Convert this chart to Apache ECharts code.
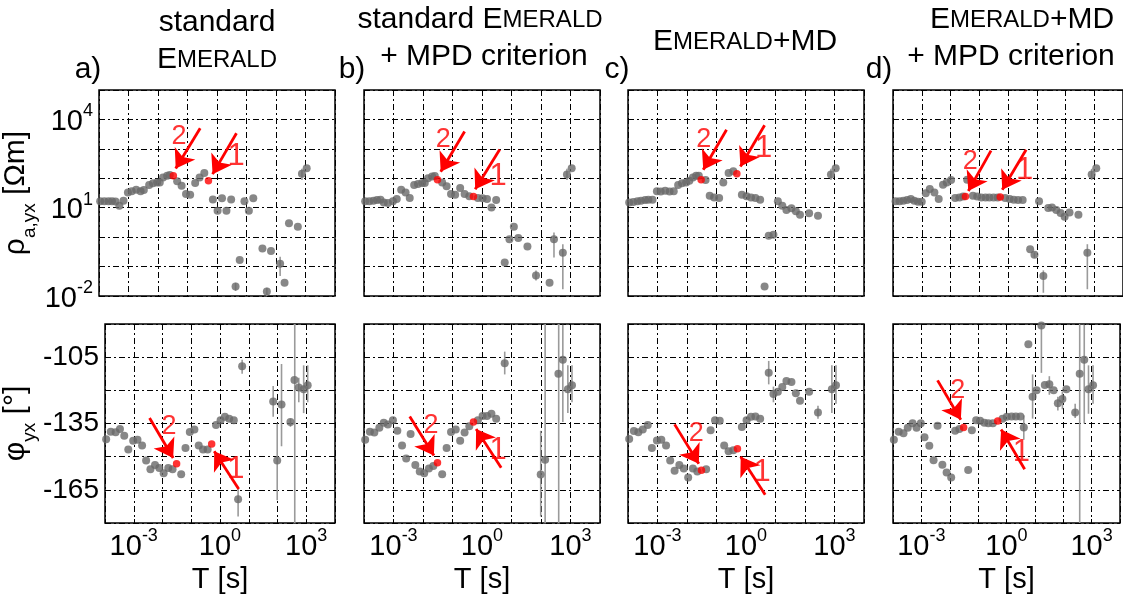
<!DOCTYPE html>
<html><head><meta charset="utf-8">
<script src="https://cdn.jsdelivr.net/npm/echarts@6/dist/echarts.min.js"></script>
<style>html,body{margin:0;padding:0;background:#fff}#c{width:1123px;height:595px}</style>
</head><body><div id="c"></div><script>
// x values are log10(T [s]); rho values are log10(rho [Ohm m]); phase in degrees
const xTicksLabelled = [-3, 0, 3];
// ---- panel a: standard EMERALD
const rhoA = [[-3.96,1.22],[-3.82,1.22],[-3.68,1.22],[-3.56,1.22],[-3.44,1.21],[-3.31,1.07],[-3.17,1.24],[-3.02,1.52],[-2.89,1.56],[-2.74,1.61],[-2.59,1.56],[-2.48,1.60],[-2.30,1.77],[-2.17,1.83],[-2.03,1.86],[-1.94,1.86],[-1.83,2.03],[-1.69,2.09],[-1.60,2.11],[-1.35,1.90],[-1.20,1.75],[-1.05,1.47],[-0.91,1.44],[-0.74,1.84],[-0.59,2.03],[-0.43,2.18],[-0.14,1.28],[0.02,0.90],[0.17,1.32],[0.32,0.90],[0.48,1.28],[0.63,-1.68],[0.77,-0.78],[0.93,1.22],[1.08,0.90],[1.23,1.32],[1.54,-0.39],[1.69,-1.85],[1.83,-0.47],[2.14,-0.90],[2.29,-1.55],[2.44,0.47],[2.74,0.35],[2.88,2.15],[3.04,2.34]];
const rhoARed = [[-1.48,2.09],[-0.29,1.92]];
const rhoAErr = [[0.63,-1.55,-1.83],[1.69,-1.72,-2.0],[2.14,-0.67,-1.32],[2.88,2.32,1.94]];
const phaA = [[-3.96,-142.1],[-3.80,-138.7],[-3.63,-139.0],[-3.48,-137.5],[-3.33,-140.5],[-3.19,-146.8],[-3.02,-142.8],[-2.87,-142.4],[-2.71,-144.9],[-2.57,-151.7],[-2.42,-155.7],[-2.26,-153.8],[-2.11,-155.1],[-1.96,-157.5],[-1.80,-155.1],[-1.65,-155.7],[-1.35,-157.9],[-1.20,-146.1],[-1.05,-138.8],[-0.89,-137.7],[-0.74,-144.9],[-0.59,-146.8],[-0.43,-146.8],[-0.14,-135.7],[0.02,-133.5],[0.17,-132.0],[0.32,-132.9],[0.48,-133.5],[0.63,-169.3],[0.77,-109.1],[1.85,-125.0],[1.99,-151.7],[2.14,-126.4],[2.45,-134.3],[2.59,-115.3],[2.74,-118.7],[2.91,-119.5],[3.05,-117.7]];
const phaARed = [[-1.51,-153.2],[-0.29,-144.3]];
const phaAErr = [[0.63,-164.6,-177.1],[0.77,-106.2,-112.5],[1.85,-118.0,-132.0],[1.99,-135.0,-169.7],[2.14,-108.1,-145.3],[2.45,-132.8,-136.5],[2.60,-90,-180],[2.74,-114.3,-125.4],[2.91,-108.7,-130.3],[3.05,-108.7,-125.4]];
// ---- panel b: standard EMERALD + MPD criterion
const rhoB = [[-3.96,1.22],[-3.82,1.22],[-3.68,1.24],[-3.56,1.26],[-3.44,1.27],[-3.33,1.18],[-3.19,1.16],[-3.02,1.22],[-2.89,1.30],[-2.74,1.61],[-2.59,1.52],[-2.45,1.33],[-2.30,1.77],[-2.17,1.81],[-2.03,1.84],[-1.94,1.84],[-1.83,2.00],[-1.69,2.06],[-1.60,2.08],[-1.35,1.86],[-1.20,1.73],[-1.05,1.47],[-0.91,1.44],[-0.74,1.67],[-0.59,1.47],[-0.43,1.39],[-0.14,1.33],[0.02,1.32],[0.17,1.30],[0.32,1.01],[0.48,1.26],[0.77,-0.86],[0.93,-0.07],[1.08,0.35],[1.23,-0.03],[1.54,-0.32],[1.69,-2.03],[1.83,-1.30],[2.29,-1.55],[2.44,-0.07],[2.74,-0.53],[2.88,2.13],[3.04,2.34]];
const rhoBRed = [[-1.51,1.95],[-0.29,1.38]];
const rhoBErr = [[1.83,-1.13,-1.47],[2.44,0.16,-0.69],[2.74,-0.24,-1.77],[2.88,2.32,1.94]];
const phaB = [[-3.96,-142.4],[-3.80,-138.7],[-3.65,-139.1],[-3.48,-136.9],[-3.33,-134.7],[-3.19,-135.4],[-3.02,-133.5],[-2.87,-138.3],[-2.71,-144.9],[-2.57,-150.8],[-2.42,-139.7],[-2.26,-153.8],[-2.11,-156.7],[-1.96,-157.5],[-1.80,-155.3],[-1.65,-154.2],[-1.35,-157.9],[-1.20,-146.1],[-1.05,-138.8],[-0.89,-137.7],[-0.74,-142.8],[-0.59,-139.1],[-0.43,-136.2],[-0.14,-133.5],[0.02,-131.6],[0.17,-131.6],[0.32,-130.6],[0.48,-132.8],[0.77,-107.7],[1.99,-158.1],[2.14,-151.4],[2.59,-112.5],[2.74,-106.2],[2.91,-119.5],[3.05,-117.7]];
const phaBRed = [[-1.51,-152.7],[-0.29,-134.3]];
const phaBErr = [[0.77,-102.5,-112.8],[1.99,-138.3,-177.1],[2.14,-90,-180],[2.60,-90,-180],[2.74,-90.3,-134.3],[2.91,-108.7,-130.3],[3.05,-108.7,-125.4]];
// ---- panel c: EMERALD+MD
const rhoC = [[-3.96,1.18],[-3.82,1.19],[-3.68,1.22],[-3.56,1.24],[-3.42,1.26],[-3.31,1.27],[-3.17,1.27],[-3.02,1.56],[-2.89,1.55],[-2.74,1.58],[-2.59,1.55],[-2.45,1.56],[-2.30,1.77],[-2.17,1.83],[-2.03,1.86],[-1.92,1.92],[-1.80,2.03],[-1.69,2.09],[-1.60,2.09],[-1.37,1.94],[-1.23,1.41],[-1.08,1.35],[-0.91,1.33],[-0.77,1.86],[-0.59,2.18],[-0.43,2.24],[-0.14,1.44],[0.02,1.39],[0.17,1.35],[0.32,1.33],[0.48,1.27],[0.63,-1.68],[0.77,0.05],[0.93,0.08],[1.08,1.22],[1.23,1.07],[1.37,0.92],[1.54,0.98],[1.69,0.88],[1.83,0.76],[2.14,0.81],[2.44,0.73],[2.88,2.13],[3.04,2.34]];
const rhoCRed = [[-1.52,1.95],[-0.31,2.15]];
const rhoCErr = [[2.88,2.32,1.94]];
const phaC = [[-3.96,-142.0],[-3.80,-138.4],[-3.65,-139.0],[-3.50,-137.7],[-3.33,-135.7],[-3.19,-146.1],[-3.02,-142.7],[-2.87,-142.4],[-2.71,-144.9],[-2.57,-151.7],[-2.42,-156.4],[-2.26,-153.8],[-2.11,-155.3],[-1.96,-159.4],[-1.80,-155.3],[-1.65,-156.7],[-1.35,-155.7],[-1.20,-138.0],[-1.05,-133.5],[-0.89,-133.8],[-0.74,-144.9],[-0.59,-147.6],[-0.43,-147.1],[-0.14,-136.6],[0.02,-133.5],[0.17,-132.0],[0.32,-131.8],[0.48,-132.8],[0.77,-112.1],[0.93,-121.7],[1.08,-120.6],[1.23,-118.5],[1.37,-115.8],[1.54,-116.2],[1.69,-121.3],[1.83,-124.7],[2.14,-120.6],[2.44,-130.0],[2.91,-119.5],[3.05,-117.7]];
const phaCRed = [[-1.51,-156.1],[-0.29,-146.4]];
const phaCErr = [[0.77,-106.7,-117.3],[0.93,-118.3,-125.4],[2.44,-127.0,-132.8],[2.91,-108.7,-130.3],[3.05,-108.7,-126.1]];
// ---- panel d: EMERALD+MD + MPD criterion
const rhoD = [[-3.91,1.22],[-3.77,1.22],[-3.64,1.24],[-3.51,1.26],[-3.38,1.30],[-3.26,1.24],[-3.13,1.20],[-3.00,1.20],[-2.86,1.49],[-2.72,1.64],[-2.56,1.52],[-2.41,1.30],[-2.26,1.78],[-2.13,1.86],[-1.98,1.94],[-1.84,1.33],[-1.69,1.35],[-1.56,1.38],[-1.42,1.95],[-1.22,1.41],[-1.07,1.38],[-0.93,1.35],[-0.78,1.35],[-0.65,1.35],[-0.50,1.35],[-0.36,1.35],[-0.10,1.33],[0.06,1.30],[0.20,1.27],[0.35,1.26],[0.51,1.26],[0.77,-0.41],[0.92,-0.60],[1.08,1.22],[1.23,-1.32],[1.40,0.99],[1.53,1.01],[1.68,0.92],[1.83,0.82],[1.97,0.69],[2.14,0.84],[2.45,0.76],[2.76,-0.53],[2.91,2.13],[3.07,2.34]];
const rhoDRed = [[-1.48,1.38],[-0.27,1.36]];
const rhoDErr = [[0.92,-0.52,-0.70],[1.23,-1.13,-1.89],[2.76,-0.24,-1.77],[2.91,2.32,1.94]];
const phaD = [[-3.97,-142.4],[-3.80,-138.7],[-3.63,-139.4],[-3.48,-136.9],[-3.31,-134.9],[-3.17,-136.9],[-3.02,-134.9],[-2.89,-141.2],[-2.72,-145.1],[-2.57,-151.6],[-2.43,-136.0],[-2.26,-153.6],[-2.11,-157.2],[-1.95,-159.4],[-1.81,-138.3],[-1.66,-137.5],[-1.35,-156.0],[-1.22,-138.0],[-1.07,-133.5],[-0.93,-133.8],[-0.78,-134.7],[-0.64,-134.9],[-0.48,-134.9],[-0.14,-132.8],[0.01,-132.0],[0.18,-131.8],[0.33,-131.8],[0.49,-131.8],[0.61,-136.8],[0.77,-99.2],[0.92,-122.9],[1.06,-120.0],[1.23,-90.7],[1.35,-117.6],[1.51,-117.3],[1.66,-120.0],[1.81,-125.8],[1.97,-123.9],[2.11,-119.5],[2.42,-130.0],[2.58,-112.5],[2.74,-106.2],[2.89,-119.5],[3.05,-117.7]];
const phaDRed = [[-1.51,-136.8],[-0.31,-133.9]];
const phaDErr = [[0.61,-131.3,-142.4],[0.92,-112.8,-132.8],[1.23,-90,-112.1],[1.51,-113.6,-122.0],[1.81,-122.9,-129.1],[1.97,-120.5,-128.6],[2.42,-126.1,-132.5],[2.58,-90,-180],[2.74,-90.3,-135.0],[2.89,-108.7,-130.6],[3.05,-108.7,-126.1]];
// ---- annotation arrows [tailX, tailY, tipX, tipY] and labels [x, y, text]
const arrRhoA = [[-0.57,3.70,-1.40,2.33],[0.66,3.53,-0.15,2.14]];
const labRhoA = [[-1.29,3.42,'2'],[0.65,2.74,'1']];
const arrRhoB = [[-0.59,3.59,-1.40,2.22],[0.60,2.98,-0.23,1.63]];
const labRhoB = [[-1.31,3.31,'2'],[0.55,2.06,'1']];
const arrRhoC = [[-0.66,3.65,-1.45,2.29],[0.63,3.80,-0.19,2.40]];
const labRhoC = [[-1.43,3.31,'2'],[0.60,3.02,'1']];
const arrRhoD = [[-0.59,2.94,-1.38,1.57],[0.63,2.97,-0.20,1.61]];
const labRhoD = [[-1.31,2.56,'2'],[0.58,2.26,'1']];
const arrPhaA = [[-2.45,-132.5,-1.63,-150.6],[0.65,-164.6,-0.20,-147.5]];
const labPhaA = [[-1.77,-136.5,'2'],[0.55,-156.0,'1']];
const arrPhaB = [[-2.45,-131.8,-1.63,-149.5],[0.65,-155.0,-0.20,-137.5]];
const labPhaB = [[-1.73,-136.0,'2'],[0.55,-147.1,'1']];
const arrPhaC = [[-2.42,-135.4,-1.60,-153.2],[0.65,-167.2,-0.18,-150.0]];
const labPhaC = [[-1.69,-139.4,'2'],[0.55,-157.2,'1']];
const arrPhaD = [[-2.43,-115.5,-1.61,-133.3],[0.64,-155.7,-0.19,-137.7]];
const labPhaD = [[-1.72,-119.9,'2'],[0.52,-148.3,'1']];

const FONT = "'Liberation Sans', Arial, Helvetica, sans-serif";
const lefts = [99, 364, 628, 893];
const PW = 236;
const rows = [{top: 90, height: 206}, {top: 324, height: 202}];
const panels = [
  [{d: rhoA, r: rhoARed, e: rhoAErr, a: arrRhoA, l: labRhoA}, {d: rhoB, r: rhoBRed, e: rhoBErr, a: arrRhoB, l: labRhoB}, {d: rhoC, r: rhoCRed, e: rhoCErr, a: arrRhoC, l: labRhoC}, {d: rhoD, r: rhoDRed, e: rhoDErr, a: arrRhoD, l: labRhoD}],
  [{d: phaA, r: phaARed, e: phaAErr, a: arrPhaA, l: labPhaA}, {d: phaB, r: phaBRed, e: phaBErr, a: arrPhaB, l: labPhaB}, {d: phaC, r: phaCRed, e: phaCErr, a: arrPhaC, l: labPhaC}, {d: phaD, r: phaDRed, e: phaDErr, a: arrPhaD, l: labPhaD}]
];
const dash = [6, 3, 2, 3];
const supRich = {
  b: {fontSize: 29, fontFamily: FONT, color: '#000', verticalAlign: 'bottom', lineHeight: 34},
  s: {fontSize: 18, fontFamily: FONT, color: '#000', verticalAlign: 'top', lineHeight: 34}
};
function errRender(params, api) {
  const p1 = api.coord([api.value(0), api.value(1)]);
  const p2 = api.coord([api.value(0), api.value(2)]);
  return {type: 'line', shape: {x1: p1[0], y1: p1[1], x2: p2[0], y2: p2[1]},
    style: {stroke: '#9a9a9a', lineWidth: 1.6}};
}
const grid = [], xAxis = [], yAxis = [], series = [];
rows.forEach((row, ri) => {
  lefts.forEach((left, ci) => {
    const g = grid.length;
    grid.push({left: left, top: row.top, width: PW, height: row.height, show: true, borderColor: '#000', borderWidth: 1.5, backgroundColor: 'transparent'});
    xAxis.push({
      gridIndex: g, type: 'value', min: -4, max: 4, interval: 1,
      axisLine: {show: false},
      axisTick: {show: true, inside: true, length: 4, lineStyle: {color: '#000'}},
      splitLine: {show: true, lineStyle: {color: '#000', width: 1, type: dash}},
      axisLabel: {show: ri === 1, margin: 4, formatter: v => xTicksLabelled.includes(v) ? '{b|10}{s|' + v + '}' : '', rich: supRich},
      name: ri === 1 ? 'T [s]' : '', nameLocation: 'middle', nameGap: 42,
      nameTextStyle: {fontSize: 29, fontFamily: FONT, color: '#000'}
    });
    if (ri === 0) {
      yAxis.push({
        gridIndex: g, type: 'value', min: -2, max: 5, interval: 1,
        axisLine: {show: false},
        axisTick: {show: true, inside: true, length: 4, lineStyle: {color: '#000'}},
        splitLine: {show: true, lineStyle: {color: '#000', width: 1, type: dash}},
        axisLabel: {show: ci === 0, margin: 6, formatter: v => ((v + 2) % 3 === 0) ? '{b|10}{s|' + v + '}' : '', rich: supRich},
        name: ci === 0 ? '{r|ρ}{sub|a,yx}{r| [Ωm]}' : '', nameLocation: 'middle', nameRotate: 90, nameGap: 60,
        nameTextStyle: {rich: {
          r: {fontSize: 30, fontFamily: FONT, color: '#000', verticalAlign: 'top', lineHeight: 38},
          sub: {fontSize: 19, fontFamily: FONT, color: '#000', verticalAlign: 'bottom', lineHeight: 38}
        }}
      });
    } else {
      yAxis.push({
        gridIndex: g, type: 'value', min: -180, max: -90, interval: 15,
        axisLine: {show: false},
        axisTick: {show: true, inside: true, length: 4, lineStyle: {color: '#000'}},
        splitLine: {show: true, lineStyle: {color: '#000', width: 1, type: dash}},
        axisLabel: {show: ci === 0, margin: 6, fontSize: 28, fontFamily: FONT, color: '#000', formatter: v => ((v + 105) % 30 === 0) ? String(v) : ''},
        name: ci === 0 ? '{r|φ}{sub|yx}{r| [°]}' : '', nameLocation: 'middle', nameRotate: 90, nameGap: 66,
        nameTextStyle: {rich: {
          r: {fontSize: 30, fontFamily: FONT, color: '#000', verticalAlign: 'top', lineHeight: 38},
          sub: {fontSize: 19, fontFamily: FONT, color: '#000', verticalAlign: 'bottom', lineHeight: 38}
        }}
      });
    }
    const p = panels[ri][ci];
    series.push({type: 'custom', xAxisIndex: g, yAxisIndex: g, data: p.e, renderItem: errRender,
      encode: {x: 0, y: 1}, clip: true, silent: true, z: 1});
    series.push({type: 'scatter', xAxisIndex: g, yAxisIndex: g, data: p.d, symbolSize: 8,
      itemStyle: {color: '#696969'}, silent: true, z: 2});
    series.push({type: 'scatter', xAxisIndex: g, yAxisIndex: g, data: p.r, symbolSize: 7.5,
      itemStyle: {color: '#ff0000'}, silent: true, z: 4,
      markLine: {silent: true, animation: false, symbol: ['none', 'arrow'], symbolSize: 18,
        label: {show: false}, lineStyle: {color: '#ff0000', width: 2.8, type: 'solid'},
        emphasis: {disabled: true},
        data: p.a.map(a => [{coord: [a[0], a[1]]}, {coord: [a[2], a[3]]}])}
    });
    series.push({type: 'scatter', xAxisIndex: g, yAxisIndex: g, symbolSize: 0, silent: true, z: 5,
      data: p.l.map(l => ({value: [l[0], l[1]], name: l[2], label: {fontSize: l[2] === '1' ? 31 : 27}})),
      label: {show: true, position: 'inside', formatter: q => q.name, color: '#ff0000', fontFamily: FONT}
    });
  });
});
const T = (text, x, y) => ({type: 'text', x: x, y: y, silent: true,
  style: {text: text, fontSize: 30, fontFamily: FONT, fill: '#000', align: 'center', verticalAlign: 'middle',
    rich: {E: {fontSize: 30, fontFamily: FONT, fill: '#000'}, s: {fontSize: 24, fontFamily: FONT, fill: '#000'}}}});
const graphic = [
  T('standard', 217, 23), T('{E|E}{s|MERALD}', 217, 60),
  T('standard {E|E}{s|MERALD}', 480, 20), T('+ MPD criterion', 484, 57),
  T('{E|E}{s|MERALD}{E|+MD}', 745, 42),
  T('{E|E}{s|MERALD}{E|+MD}', 1022, 20), T('+ MPD criterion', 1011, 57),
  T('a)', 88, 70), T('b)', 352, 70), T('c)', 617, 70), T('d)', 879, 70)
];
const chart = echarts.init(document.getElementById('c'), null, {renderer: 'canvas'});
chart.setOption({animation: false, backgroundColor: '#fff', grid, xAxis, yAxis, series, graphic});
</script></body></html>
